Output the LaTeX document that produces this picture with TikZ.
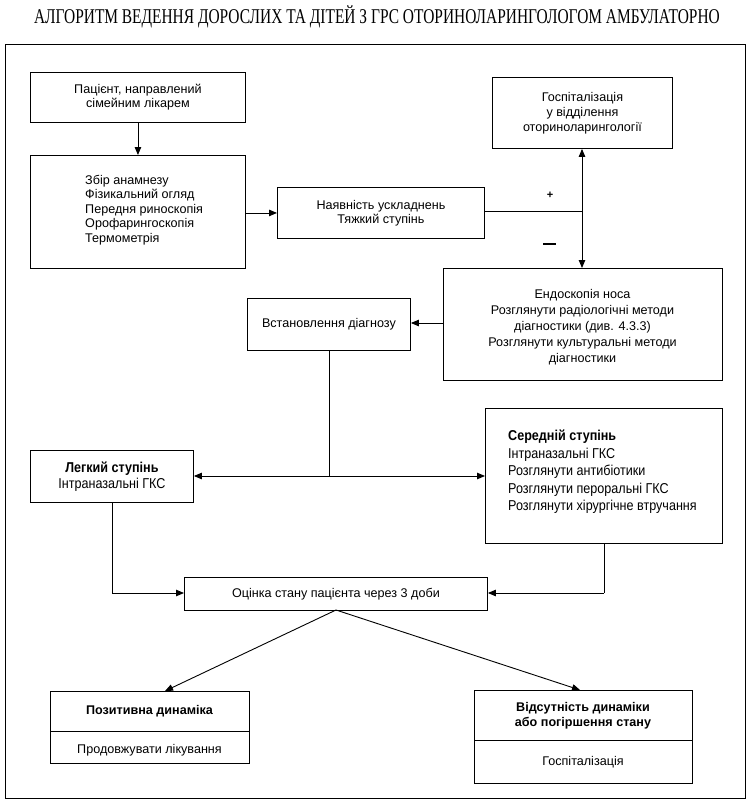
\documentclass[tikz,border=0pt]{standalone}
\usepackage{fontspec}
\setmainfont{Liberation Sans}
\newfontfamily\titlefont[FakeStretch=0.735]{Liberation Serif}
\newfontfamily\narrowfont[FakeStretch=0.88]{Liberation Sans}
\usetikzlibrary{arrows.meta}
\begin{document}
\begin{tikzpicture}[x=1pt,y=-1pt,
  box/.style={draw,line width=0.9pt,inner sep=0pt,anchor=north west},
  txt/.style={inner sep=0pt,font=\fontsize{12.6}{14}\selectfont,align=center},
  ntxt/.style={inner sep=0pt,font=\narrowfont\fontsize{14.3}{17.5}\selectfont,align=center},
  arr/.style={line width=0.9pt,-{Triangle[length=8pt,width=6.5pt]}},
  ln/.style={line width=0.9pt}]
\useasboundingbox (0,0) rectangle (752,808);
\node[inner sep=0pt,font=\titlefont\fontsize{21}{24}\selectfont] (title) at (377,17) {АЛГОРИТМ ВЕДЕННЯ ДОРОСЛИХ ТА ДІТЕЙ З ГРС ОТОРИНОЛАРИНГОЛОГОМ АМБУЛАТОРНО};
\node[box,minimum width=740pt,minimum height=754pt] (frame) at (5,44) {};
% boxes
\node[box,minimum width=215pt,minimum height=50pt] (b1) at (30,72) {};
\node[txt] (t1) at (b1.center) {Пацієнт, направлений\\сімейним лікарем};
\node[box,minimum width=215pt,minimum height=113pt] (b2) at (30,155) {};
\node[txt,align=left,anchor=west,font=\fontsize{12.6}{14.5}\selectfont] (t2) at (85,210) {Збір анамнезу\\Фізикальний огляд\\Передня риноскопія\\Орофарингоскопія\\Термометрія};
\node[box,minimum width=207pt,minimum height=51pt] (b3) at (277,187) {};
\node[txt] (t3) at (b3.center) {Наявність ускладнень\\Тяжкий ступінь};
\node[box,minimum width=180pt,minimum height=71pt] (b4) at (492,77) {};
\node[txt,font=\fontsize{12.6}{15}\selectfont] (t4) at (b4.center) {Госпіталізація\\у відділення\\оториноларингології};
\node[box,minimum width=279pt,minimum height=112pt] (b5) at (443,268) {};
\node[txt,font=\fontsize{12.6}{16}\selectfont] (t5) at (582.5,327) {Ендоскопія носа\\Розглянути радіологічні методи\\діагностики (див. 4.3.3)\\Розглянути культуральні методи\\діагностики};
\node[box,minimum width=163pt,minimum height=52pt] (b6) at (247,298) {};
\node[txt] (t6) at (b6.center) {Встановлення діагнозу};
\node[box,minimum width=163pt,minimum height=52pt] (b7) at (30,450) {};
\node[ntxt,font=\narrowfont\fontsize{14.3}{16}\selectfont] (t7) at (b7.center) {\textbf{Легкий ступінь}\\Інтраназальні ГКС};
\node[box,minimum width=237pt,minimum height=135pt] (b8) at (485,408) {};
\node[ntxt,align=left,anchor=west] (t8) at (508,472) {\textbf{Середній ступінь}\\Інтраназальні ГКС\\Розглянути антибіотики\\Розглянути пероральні ГКС\\Розглянути хірургічне втручання};
\node[box,minimum width=303pt,minimum height=33pt] (b9) at (184,577) {};
\node[txt] (t9) at (b9.center) {Оцінка стану пацієнта через 3 доби};
\node[box,minimum width=199pt,minimum height=72pt] (b10) at (50,691) {};
\draw[ln] (b10.west |- 0,731) -- (b10.east |- 0,731);
\node[txt] (t10a) at (149.5,711) {\textbf{Позитивна динаміка}};
\node[txt] (t10b) at (149.5,750) {Продовжувати лікування};
\node[box,minimum width=218pt,minimum height=93pt] (b11) at (474,690) {};
\draw[ln] (b11.west |- 0,740) -- (b11.east |- 0,740);
\node[txt,font=\fontsize{12.6}{15}\selectfont] (t11a) at (583,716) {\textbf{Відсутність динаміки}\\\textbf{або погіршення стану}};
\node[txt] (t11b) at (583,762) {Госпіталізація};
% connectors
\draw[arr] (b1.south) -- (b2.north);
\draw[arr] (b2.east |- b3.west) -- (b3.west);
\coordinate (j1) at (582,211);
\draw[ln] (b3.east |- j1) -- (j1);
\draw[arr] (j1) -- (j1 |- b4.south);
\draw[arr] (j1) -- (j1 |- b5.north);
\node[inner sep=0pt,font=\bfseries\fontsize{11}{12}\selectfont] (plus) at (550,195) {+};
\draw[line width=1.7pt] (543,244) -- (556,244);
\coordinate (m5) at (443,323);
\draw[arr] (m5) -- (b6.east |- m5);
\coordinate (j2) at (329,476);
\draw[ln] (j2 |- b6.south) -- (j2);
\draw[arr] (j2) -- (b7.east |- j2);
\draw[arr] (j2) -- (b8.west |- j2);
\coordinate (c7) at (112,593);
\draw[ln] (c7 |- b7.south) -- (c7);
\draw[arr] (c7) -- (b9.west |- c7);
\coordinate (c8) at (604,593);
\draw[ln] (c8 |- b8.south) -- (c8);
\draw[arr] (c8) -- (b9.east |- c8);
\coordinate (s9) at (336,610);
\draw[arr] (s9) -- (165,691);
\draw[arr] (s9) -- (580,690);
\end{tikzpicture}
\end{document}
